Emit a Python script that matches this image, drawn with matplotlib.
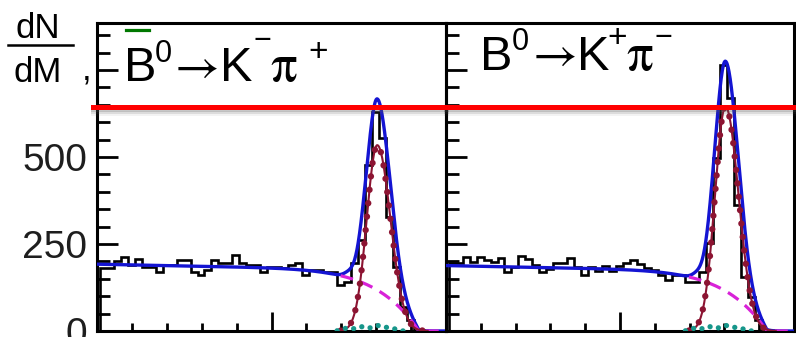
import numpy as np
import matplotlib
matplotlib.use("Agg")
import matplotlib.pyplot as plt
from matplotlib import patheffects as pe
from matplotlib.lines import Line2D
from matplotlib.ticker import FixedLocator

plt.rcParams["font.family"] = ["Liberation Sans", "DejaVu Sans"]

# ---- data -------------------------------------------------------------
MASS_LO, MASS_HI = 4.896, 5.396        # GeV/c^2, axis range
HIST_LO = 4.90                          # first bin edge
BIN_WIDTH = 0.01
Y_MAX = 885
Y_TICKS = [0, 250, 500, 750]
Y_TICK_LABELS = ["0", "250", "500", ""]
REF_LEVEL = 644                         # horizontal reference line

counts_bbar = [181, 181, 200, 213, 190, 207, 184, 184, 170, 190,
               190, 204, 204, 170, 161, 175, 204, 195, 195, 218,
               195, 190, 190, 170, 184, 184, 181, 190, 195, 161,
               175, 175, 170, 170, 132, 140, 195, 261, 477, 629,
               555, 328, 184, 69, 32, 0, 0, 0, 0, 0]
counts_b = [195, 195, 213, 198, 213, 205, 198, 210, 170, 185,
            215, 208, 190, 170, 178, 195, 195, 210, 185, 161,
            185, 172, 188, 172, 188, 195, 204, 192, 180, 175,
            160, 147, 160, 160, 141, 141, 170, 253, 497, 764,
            670, 362, 155, 98, 32, 0, 0, 0, 0, 0]

# fit components: signal (bifurcated Gaussian), background (linear with
# an endpoint cut-off), small peaking contribution
sig_amp = {"bbar": 534, "b": 645}
sig_mean = 5.2975
sig_sigma_lo = 0.0150
sig_sigma_hi = 0.0188
bkg_level = {"bbar": 192, "b": 188}
bkg_slope = -40.0
bkg_end = 5.357
bkg_power = 8
small_means = [5.256, 5.278, 5.299, 5.316]
small_amps = [9, 13, 15, 9]
small_sigma = 0.007

# ---- styles -----------------------------------------------------------
BLUE = "#1414d2"
MAGENTA = "#d822d8"
MAROON = "#8c1432"
TEAL = "#16968a"
W, H = 796, 337


def px(x, y):
    return x / W, 1 - y / H


def signal(m, amp):
    s = np.where(m < sig_mean, sig_sigma_lo, sig_sigma_hi)
    return amp * np.exp(-0.5 * ((m - sig_mean) / s) ** 2)


def background(m, level):
    lin = level + bkg_slope * (m - MASS_LO)
    frac = np.clip((m - MASS_LO) / (bkg_end - MASS_LO), 0, None)
    cut = np.clip(1 - frac ** bkg_power, 0, None)
    return lin * cut


def small(m):
    out = np.zeros_like(m)
    for mu, a in zip(small_means, small_amps):
        out += a * np.exp(-0.5 * ((m - mu) / small_sigma) ** 2)
    return out


fig = plt.figure(figsize=(W / 100, H / 100), dpi=100)
ax_l = fig.add_axes([97 / W, 1 - 331 / H, 349 / W, 308 / H])
ax_r = fig.add_axes([446 / W, 1 - 331 / H, 348 / W, 308 / H])

edges = HIST_LO + BIN_WIDTH * np.arange(len(counts_b) + 1)
m = np.linspace(MASS_LO, MASS_HI, 1200)
minor_x = MASS_LO + 0.05 * np.arange(11)

for ax, key, counts in [(ax_l, "bbar", counts_bbar), (ax_r, "b", counts_b)]:
    ax.set_xlim(MASS_LO, MASS_HI)
    ax.set_ylim(0, Y_MAX)
    ax.stairs(counts, edges, color="black", lw=1.9, zorder=2)

    sig = signal(m, sig_amp[key])
    bkg = background(m, bkg_level[key])
    sml = small(m)
    tot = sig + bkg + sml

    ax.plot(m, tot, color=BLUE, lw=2.4, zorder=3)
    mask = m > 5.245
    ax.plot(m[mask], bkg[mask], color=MAGENTA, lw=2.3,
            dashes=(4, 2.6), zorder=4)
    sm = (m > 5.245) & (m < 5.37)
    ax.plot(m[sm], sig[sm], color=MAROON, lw=1.5, zorder=5)
    ax.plot(m[sm], sig[sm], color=MAROON, lw=4.6, zorder=5,
            linestyle=(0, (0.01, 2.1)), dash_capstyle="round")
    tm = (m > 5.24) & (m < 5.335)
    ax.plot(m[tm], sml[tm], color=TEAL, lw=3.8, zorder=5,
            linestyle=(0, (0.01, 1.6)), dash_capstyle="round")

    ax.yaxis.set_major_locator(FixedLocator(Y_TICKS))
    ax.yaxis.set_minor_locator(FixedLocator(np.arange(0, Y_MAX, 50)))
    ax.xaxis.set_major_locator(FixedLocator([minor_x[5]]))
    ax.xaxis.set_minor_locator(FixedLocator(minor_x))
    ax.tick_params(which="both", direction="in", width=2.0,
                   top=False, right=False, labelbottom=False)
    ax.tick_params(axis="y", which="major", length=15)
    ax.tick_params(axis="y", which="minor", length=9)
    ax.tick_params(axis="x", which="major", length=14)
    ax.tick_params(axis="x", which="minor", length=6)
    for s in ax.spines.values():
        s.set_linewidth(2.2)
    ax.set_facecolor("none")

ax_l.set_yticklabels(Y_TICK_LABELS)
ax_l.tick_params(axis="y", labelsize=28, pad=7, labelcolor="#1e1e1e")
ax_r.tick_params(labelleft=False)

# horizontal reference line with soft drop shadow
shadow = [pe.SimpleLineShadow(offset=(0, -d), shadow_color="0.35",
                              alpha=a, linewidth=3.6)
          for d, a in [(1.5, 0.22), (3.0, 0.14), (4.5, 0.07)]]
for ax, x0, x1 in [(ax_l, -0.012, 1.0), (ax_r, 0.0, 1.01)]:
    ax.axhline(REF_LEVEL, x0, x1, color="#ff0000", lw=3.6, clip_on=False,
               zorder=6, path_effects=shadow + [pe.Normal()])

# y axis label
fig.text(*px(38, 38), "dN", fontsize=25, ha="center", va="baseline")
fig.add_artist(Line2D([8 / W, 73 / W], [1 - 45 / H] * 2, color="black",
                      lw=1.8))
fig.text(*px(38, 82), "dM", fontsize=25, ha="center", va="baseline")
fig.text(*px(82, 80), ",", fontsize=25, ha="left", va="baseline")

# decay labels
big, sup = 35, 22
ARROW_FONT = ["STIXGeneral", "DejaVu Sans"]
PI_FONT = ["STIXGeneral", "DejaVu Serif"]
fig.add_artist(Line2D([126 / W, 149 / W], [1 - 29.5 / H] * 2,
                      color="#007800", lw=2.3))
fig.text(*px(124, 81), "B", fontsize=big, va="baseline")
fig.text(*px(155, 62), "0", fontsize=sup, va="baseline")
fig.text(*px(197, 70), "\u2192", fontsize=big, ha="center", va="center",
         family=ARROW_FONT)
fig.text(*px(220, 81), "K", fontsize=big, va="baseline")
fig.text(*px(262, 41), "\u2212", fontsize=sup, ha="center", va="center")
fig.text(*px(284, 81), "\u03c0", fontsize=38, ha="center", va="baseline",
         family=PI_FONT)
fig.text(*px(318, 53), "+", fontsize=24, ha="center", va="center")

fig.text(*px(480, 70), "B", fontsize=big, va="baseline")
fig.text(*px(512, 50), "0", fontsize=sup, va="baseline")
fig.text(*px(555, 58), "\u2192", fontsize=big, ha="center", va="center",
         family=ARROW_FONT)
fig.text(*px(577, 70), "K", fontsize=big, va="baseline")
fig.text(*px(617, 39), "+", fontsize=24, ha="center", va="center")
fig.text(*px(640, 70), "\u03c0", fontsize=38, ha="center", va="baseline",
         family=PI_FONT)
fig.text(*px(663, 38), "\u2212", fontsize=sup, ha="center", va="center")

fig.savefig("out.png", dpi=100)
